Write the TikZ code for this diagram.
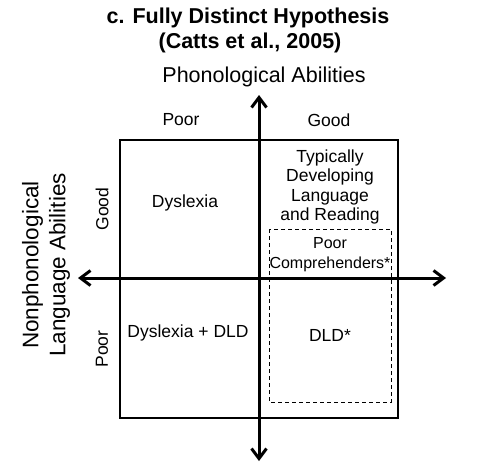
\documentclass[tikz,border=0pt]{standalone}
\usepackage{fontspec}
\setmainfont{Liberation Sans}
\usetikzlibrary{arrows.meta}
\begin{document}
\begin{tikzpicture}[x=1pt,y=-1pt,
  lbl/.style={font=\fontsize{17.5}{19.5}\selectfont, align=center, inner sep=0pt},
  sml/.style={font=\fontsize{16}{20}\selectfont, align=center, inner sep=0pt},
  big/.style={font=\fontsize{21.5}{26}\selectfont, align=center, inner sep=0pt},
  ytl/.style={font=\fontsize{22.5}{27}\selectfont, align=center, inner sep=0pt},
  ttl/.style={font=\fontsize{21.5}{24}\selectfont\bfseries, align=center, inner sep=0pt},
  axis/.style={line width=3pt, -{Straight Barb[length=10pt,width=15pt,line width=3pt]}},
  box/.style={draw, line width=2.2pt},
  dbox/.style={draw, line width=1pt, dash pattern=on 4pt off 3pt}]
\useasboundingbox (0,0) rectangle (497,474);
% outer box
\coordinate (tl) at (120,140);
\coordinate (br) at (398,418);
\draw[box] (tl) rectangle (br);
% dashed box
\coordinate (dtl) at (269,229);
\coordinate (dbr) at (391,402);
\draw[dbox] (dtl) rectangle (dbr);
% axes
\coordinate (vc) at (259,278);
\coordinate (vtop) at (259,95);
\coordinate (vbot) at (259,461);
\coordinate (hl) at (78,278);
\coordinate (hr) at (446,278);
\draw[axis] (vc) -- (vtop);
\draw[axis] (vc) -- (vbot);
\draw[axis] (vc) -- (hl);
\draw[axis] (vc) -- (hr);
% title
\node[ttl] (t1) at (248,18) {c. Fully Distinct Hypothesis};
\node[ttl] (t2) at (250,43) {(Catts et al., 2005)};
\node[big] (xt) at (264,77) {Phonological Abilities};
\node[lbl] (xp) at (181,120) {Poor};
\node[lbl] (xg) at (329,120) {Good};
% y labels
\node[ytl, rotate=90] (yt) at (46,265) {Nonphonological\\Language Abilities};
\node[lbl, rotate=90] (yg) at (102,209) {Good};
\node[lbl, rotate=90] (yp) at (102,349) {Poor};
% quadrants
\node[lbl] (q1) at (185,203) {Dyslexia};
\node[lbl] (q2) at (330,187) {Typically\\Developing\\Language\\and Reading};
\node[sml] (q3) at (330,255) {Poor\\Comprehenders*};
\node[lbl] (q4) at (188,333) {Dyslexia + DLD};
\node[lbl] (q5) at (330,335) {DLD*};
\end{tikzpicture}
\end{document}
